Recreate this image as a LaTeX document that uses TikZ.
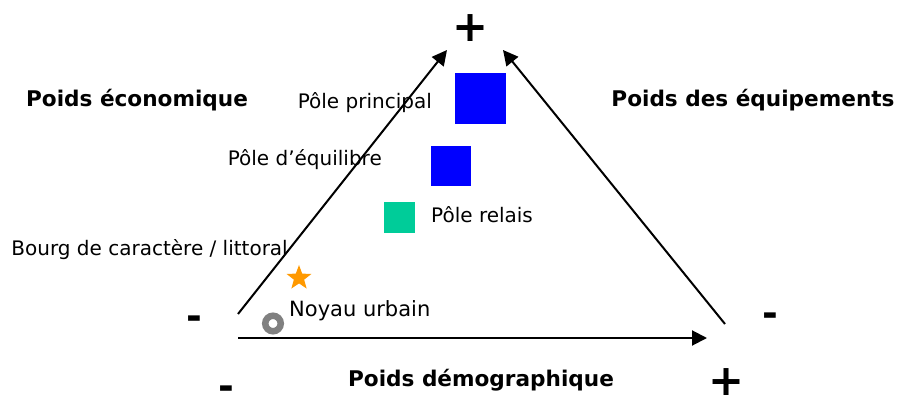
\documentclass[tikz,border=0pt]{standalone}
\usepackage{fontspec}
\setmainfont{DejaVu Sans}
\usepackage{xcolor}
\usepackage{tikz}
\usetikzlibrary{arrows.meta,shapes.geometric}
\definecolor{BleuPole}{RGB}{0,0,255}
\definecolor{VertRelais}{RGB}{0,204,153}
\definecolor{OrangeBourg}{RGB}{255,153,0}
\definecolor{GrisNoyau}{RGB}{128,128,128}

\begin{document}
\begin{tikzpicture}[x=1pt,y=-1pt,>={Triangle[length=15pt,width=15pt]}]
  \useasboundingbox (0,0) rectangle (899,395);
  \tikzset{
    axe/.style={font=\bfseries\fontsize{21.6}{24}\selectfont,inner sep=0pt},
    pole/.style={font=\fontsize{20}{22}\selectfont,inner sep=0pt},
    plus/.style={font=\bfseries\fontsize{43}{43}\selectfont,inner sep=0pt},
    moins/.style={font=\bfseries\fontsize{38}{38}\selectfont,inner sep=0pt},
    fleche/.style={->,line width=2pt}
  }

  % sommets du triangle
  \coordinate (G) at (238,314);
  \coordinate (H) at (447,50);
  \coordinate (Hd) at (503,50);
  \coordinate (D) at (725,324);
  \coordinate (B0) at (238,338);
  \coordinate (B1) at (707,338);

  \draw[fleche] (G) -- (H);
  \draw[fleche] (D) -- (Hd);
  \draw[fleche] (B0) -- (B1);

  % signes
  \node[plus] (plushaut) at (471,28) {+};
  \node[plus] (plusbas) at (727,382) {+};
  \node[moins] (moinsg) at (194,323) {-};
  \node[moins] (moinsgb) at (226,393) {-};
  \node[moins] (moinsd) at (770,320) {-};

  % axes
  \node[axe] (eco) at (137,100) {Poids économique};
  \node[axe] (equip) at (753,100) {Poids des équipements};
  \node[axe] (demo) at (481,380) {Poids démographique};

  % poles
  \fill[BleuPole] (455,73) rectangle (506,124);
  \node[pole,anchor=east] (principal) at (432,103) {Pôle principal};
  \fill[BleuPole] (431,146) rectangle (471,186);
  \node[pole,anchor=east] (equilibre) at (382,160) {Pôle d’équilibre};
  \fill[VertRelais] (384,202) rectangle (415,233);
  \node[pole,anchor=west] (relais) at (431,215) {Pôle relais};
  \node[pole,anchor=east] (bourg) at (288,250) {Bourg de caractère / littoral};
  \node[star,star points=5,star point ratio=2.4,fill=OrangeBourg,inner sep=0pt,minimum size=26pt] (etoile) at (299,278) {};
  \draw[GrisNoyau,line width=6.5pt] (273,323.5) circle (7.75pt);
  \node[pole,anchor=west,font=\fontsize{21}{24}\selectfont] (noyau) at (289,311) {Noyau urbain};
\end{tikzpicture}
\end{document}
